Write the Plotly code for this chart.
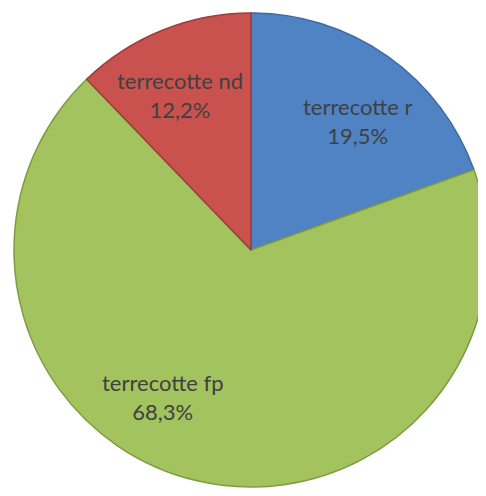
import plotly.graph_objects as go

# slices, clockwise from 12 o'clock
labels = ["terrecotte r", "terrecotte fp", "terrecotte nd"]
values = [19.5, 68.3, 12.2]
colors = ["#5083C4", "#A2C35E", "#C9524F"]
edges = ["#3E6AA3", "#7F9C44", "#9E3C3A"]

# label anchor points in paper coords (Excel "best fit" placement)
label_pos = {
    "terrecotte r": (0.720, 0.772),
    "terrecotte fp": (0.317, 0.216),
    "terrecotte nd": (0.354, 0.825),
}

fig = go.Figure(go.Pie(
    labels=labels,
    values=values,
    sort=False,
    direction="clockwise",
    rotation=0,
    marker=dict(colors=colors, line=dict(color=edges, width=1.5)),
    textinfo="none",
    hoverinfo="label+percent",
    domain=dict(x=[0.0123, 0.9877], y=[0.0343, 0.9899]),
    showlegend=False,
))

total = sum(values)
for lab, val in zip(labels, values):
    x, y = label_pos[lab]
    pct = f"{val / total * 100:.1f}".replace(".", ",")
    fig.add_annotation(
        x=x, y=y, xref="paper", yref="paper",
        xanchor="center", yanchor="middle",
        text=f"{lab}<br>{pct}%",
        showarrow=False,
        font=dict(family="Lato", size=22, color="#404040"),
        align="center",
    )

fig.update_layout(
    width=486,
    height=496,
    margin=dict(l=0, r=0, t=0, b=0),
    paper_bgcolor="white",
    plot_bgcolor="white",
)

fig.write_html("out.html")
